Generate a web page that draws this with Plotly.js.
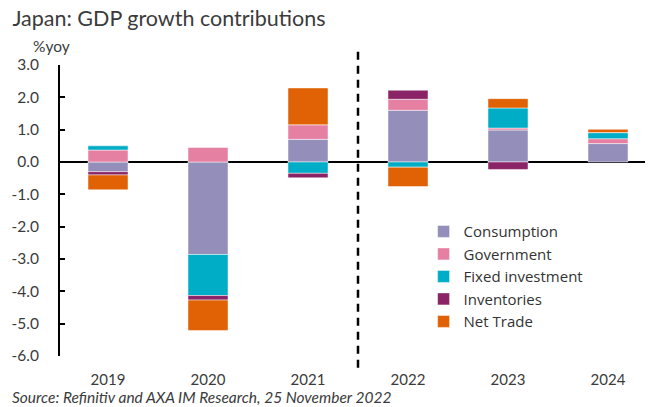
<!DOCTYPE html>
<html>
<head>
<meta charset="utf-8">
<script src="https://cdn.plot.ly/plotly-3.0.1.min.js"></script>
<style>
  html, body { margin: 0; padding: 0; background: #fff; }
  #chart { width: 654px; height: 407px; }
</style>
</head>
<body>
<div id="chart"></div>
<script>
// values, % points of yoy GDP growth
const years = ['2019', '2020', '2021', '2022', '2023', '2024'];
const consumption = [-0.30, -2.86, 0.70, 1.60, 0.99, 0.57];
const government = [0.37, 0.45, 0.45, 0.34, 0.06, 0.15];
const fixed_investment = [0.13, -1.27, -0.35, -0.16, 0.62, 0.19];
const inventories = [-0.10, -0.14, -0.14, 0.28, -0.23, 0.0];
const net_trade = [-0.46, -0.94, 1.14, -0.60, 0.29, 0.10];

const y_tick_vals = [3, 2, 1, 0, -1, -2, -3, -4, -5, -6];
const y_tick_text = ['3.0', '2.0', '1.0', '0.0', '-1.0', '-2.0', '-3.0', '-4.0', '-5.0', '-6.0'];

const series = [
  {name: 'Consumption', values: consumption, colour: '#948fba'},
  {name: 'Government', values: government, colour: '#e580a3'},
  {name: 'Fixed investment', values: fixed_investment, colour: '#00adc6'},
  {name: 'Inventories', values: inventories, colour: '#8a2466'},
  {name: 'Net Trade', values: net_trade, colour: '#e06205'},
];

const text_colour = '#3b3b3b';
const font_family = 'Lato, "Open Sans", sans-serif';

const make_bar = ({name, values, colour}) => ({
  type: 'bar',
  x: years,
  y: values,
  name: name,
  marker: {
    color: colour,
    line: {color: 'rgba(255,255,255,0.6)', width: 0.8},
  },
  hoverinfo: 'skip',
});

const data = series.map(make_bar);

const layout = {
  width: 654,
  height: 407,
  margin: {l: 60, r: 9, t: 65, b: 51},
  paper_bgcolor: '#fff',
  plot_bgcolor: '#fff',
  barmode: 'relative',
  bargap: 0.6,
  font: {family: font_family, color: text_colour, size: 15},
  title: {
    text: 'Japan: GDP growth contributions',
    font: {family: font_family, size: 21.5, color: text_colour},
    xref: 'container', yref: 'container',
    x: 0.019, xanchor: 'left',
    y: 1 - 18 / 407, yanchor: 'middle',
  },
  xaxis: {
    type: 'category',
    range: [-0.48, 5.37],
    showline: false,
    showgrid: false,
    zeroline: false,
    ticks: '',
    ticklabelstandoff: 13,
    tickfont: {size: 15, color: text_colour},
  },
  yaxis: {
    range: [-6, 3],
    tickvals: y_tick_vals,
    ticktext: y_tick_text,
    showgrid: false,
    showline: true,
    linecolor: '#000',
    linewidth: 2,
    ticks: 'inside',
    ticklen: 5,
    tickwidth: 2,
    tickcolor: '#000',
    ticklabelstandoff: 16,
    zeroline: true,
    zerolinecolor: '#000',
    zerolinewidth: 2,
    tickfont: {size: 15.5, color: text_colour},
  },
  showlegend: true,
  legend: {
    x: 0.6215, xanchor: 'left',
    y: 0.484, yanchor: 'top',
    traceorder: 'normal',
    bgcolor: 'rgba(255,255,255,0)',
    font: {family: '"Open Sans", Lato, sans-serif', size: 15, color: '#333'},
  },
  shapes: [{
    // forecast divider
    type: 'line',
    xref: 'x', yref: 'paper',
    x0: 2.5, x1: 2.5,
    y0: -0.04, y1: 1.052,
    line: {color: '#000', width: 2.5, dash: '8px,6px'},
  }],
  annotations: [
    {
      text: '%yoy',
      xref: 'paper', yref: 'paper',
      x: -0.05, y: 1.065,
      xanchor: 'left', yanchor: 'middle',
      showarrow: false,
      font: {size: 15.5, color: text_colour},
    },
    {
      text: '<i>Source: Refinitiv and AXA IM Research, 25 November 2022</i>',
      xref: 'paper', yref: 'paper',
      x: -0.0855, y: -0.1426,
      xanchor: 'left', yanchor: 'middle',
      showarrow: false,
      font: {size: 15.5, color: text_colour},
    },
  ],
};

Plotly.newPlot('chart', data, layout, {displayModeBar: false, staticPlot: true});
</script>
</body>
</html>
